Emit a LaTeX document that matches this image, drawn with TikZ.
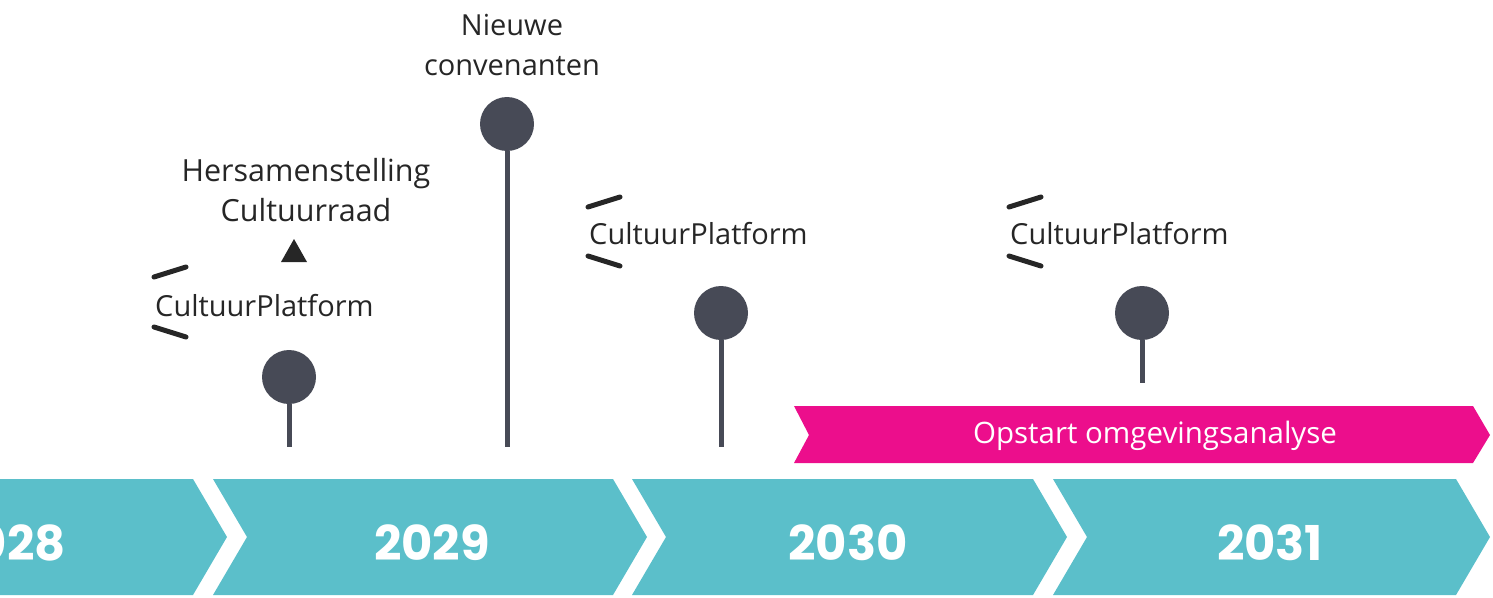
\documentclass[tikz,border=0pt]{standalone}
\usepackage{fontspec}
\setmainfont{Open Sans}
\newfontfamily\yearfont{Poppins}
\definecolor{teal}{HTML}{5BBFCA}
\definecolor{pinkc}{HTML}{EC0E8C}
\definecolor{dark}{HTML}{474A56}
\tikzset{
  yearbox/.style={fill=teal, draw=none},
  yeartext/.style={text=white, inner sep=0pt, font=\yearfont\bfseries\fontsize{48}{52}\selectfont},
  pinhead/.style={circle, fill=dark, minimum size=54pt, inner sep=0pt},
  stem/.style={draw=dark, line width=5pt},
  label/.style={inner sep=0pt, text=black!85, font=\fontsize{29}{40}\selectfont, align=center},
  brack/.style={draw=black!85, line width=5pt, line cap=round},
  pinkbox/.style={fill=pinkc, draw=none},
}
\begin{document}
\begin{tikzpicture}[x=1pt,y=-1pt]
\useasboundingbox (0,0) rectangle (1493,597);
\clip (0,0) rectangle (1493,597);
% year chevrons
\fill[yearbox] (-210,479) -- (193,479) -- (227,537) -- (193,595) -- (-210,595) -- cycle;
\fill[yearbox] (213,479) -- (613,479) -- (647,537) -- (613,595) -- (213,595) -- (247,537) -- cycle;
\fill[yearbox] (632,479) -- (1033,479) -- (1067,537) -- (1033,595) -- (632,595) -- (666,537) -- cycle;
\fill[yearbox] (1053,479) -- (1456,479) -- (1490,537) -- (1456,595) -- (1053,595) -- (1087,537) -- cycle;
\node[yeartext] (y28) at (7,543) {2028};
\node[yeartext] (y29) at (432,543) {2029};
\node[yeartext] (y30) at (848,543) {2030};
\node[yeartext] (y31) at (1270,543) {2031};
% pink banner
\fill[pinkbox] (794,406) -- (1473,406) -- (1490,435) -- (1473,463) -- (794,463) -- (809,435) -- cycle;
\node[inner sep=0pt, text=white, font=\fontsize{29.5}{34}\selectfont] (oa) at (1155,436) {Opstart omgevingsanalyse};
% pins
\node[pinhead] (p1) at (289,377) {};
\node[pinhead] (p2) at (507,124) {};
\node[pinhead] (p3) at (721,313) {};
\node[pinhead] (p4) at (1142,313) {};
\coordinate (s1) at (289,447);
\coordinate (s2) at (507,447);
\coordinate (s3) at (721,447);
\coordinate (s4) at (1142,383);
\draw[stem] (p1) -- (s1);
\draw[stem] (p2) -- (s2);
\draw[stem] (p3) -- (s3);
\draw[stem] (p4) -- (s4);
% labels
\node[label] (nc) at (512,45) {Nieuwe\\convenanten};
\node[label, font=\fontsize{30.5}{40}\selectfont] (hc) at (306,190) {Hersamenstelling\\Cultuurraad};
\fill[black!85] (281,262) -- (307,262) -- (294,239) -- cycle;
\node[label, anchor=base west] (cp1) at (155,316) {CultuurPlatform};
\node[label, anchor=base west] (cp2) at (589,244) {CultuurPlatform};
\node[label, anchor=base west] (cp3) at (1010,244) {CultuurPlatform};
% brackets
\draw[brack] (154,277) -- (186,267);
\draw[brack] (154,327) -- (186,337);
\draw[brack] (588,207) -- (620,197);
\draw[brack] (588,256) -- (620,266);
\draw[brack] (1009,207) -- (1041,197);
\draw[brack] (1009,256) -- (1041,266);
\end{tikzpicture}
\end{document}
